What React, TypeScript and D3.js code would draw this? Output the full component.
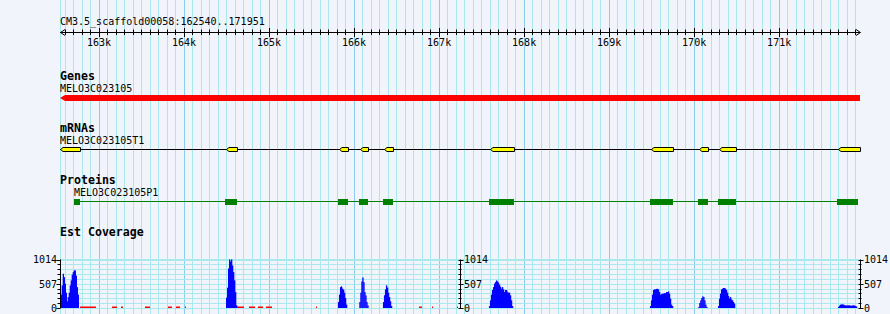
import React from "react";
import * as d3 from "d3";

const W = 890;
const H = 314;

const regionStart = 162540;
const regionEnd = 171951;
const regionTitle = "CM3.5_scaffold00058:162540..171951";

const geneName = "MELO3C023105";
const geneStart = 162540;
const geneEnd = 171951;

const mrnaName = "MELO3C023105T1";
const exonStarts = [162540, 164493, 165822, 166069, 166351, 167598, 169492, 170057, 170292, 171692];
const exonEnds = [162775, 164622, 165928, 166163, 166457, 167880, 169751, 170162, 170492, 171951];

const proteinName = "MELO3C023105P1";
const cdsStarts = [162705, 164481, 165810, 166057, 166339, 167586, 169480, 170045, 170280, 171680];
const cdsEnds = [162775, 164622, 165928, 166163, 166457, 167880, 169751, 170162, 170492, 171927];

const covMax = 1014;
const covTickLabels = [0, 507, 1014];
const covBin = 11.76;
const covPeakStarts = [162548, 164493, 165810, 166061, 166339, 167586, 169480, 170048, 170280, 171692];
const covPeakValues = [
  [279, 473, 716, 645, 508, 320, 140, 229, 320, 473, 577, 695, 750, 785, 785, 675, 437, 279],
  [217, 425, 827, 1014, 972, 1014, 889, 750, 577, 333, 56],
  [125, 279, 437, 452, 404, 383, 320, 208, 71],
  [125, 320, 556, 639, 541, 333, 264, 125, 56],
  [125, 266, 390, 473, 425, 320, 229, 140, 40],
  [40, 160, 279, 376, 437, 508, 541, 577, 556, 530, 487, 445, 404, 437, 390, 333, 376, 376, 333, 320, 320, 264, 160, 40],
  [40, 160, 279, 376, 390, 390, 400, 400, 390, 333, 279, 290, 300, 300, 310, 310, 333, 333, 347, 300, 196, 71, 40],
  [20, 104, 160, 208, 243, 229, 160, 71, 20],
  [40, 196, 300, 390, 404, 418, 418, 404, 376, 320, 250, 196, 229, 180, 160, 125, 90],
  [25, 50, 70, 75, 75, 70, 60, 55, 50, 55, 55, 55, 50, 45, 55, 55, 50, 40, 30],
];
const lowCovStarts = [162775, 163152, 163258, 163540, 163810, 163905, 164010, 164622, 164763, 164869, 164963, 165551, 166763, 166916, 167210];
const lowCovEnds = [162963, 163210, 163281, 163599, 163857, 163952, 164022, 164704, 164834, 164928, 165034, 165563, 166798, 166928, 167222];

const trackLabels = ["Genes", "mRNAs", "Proteins", "Est Coverage"];

const FONT = "'DejaVu Sans Mono', monospace";
const BG = "#f1f5fb";
const MINOR = "#a9e9ee";
const MAJOR = "#8ccbea";

export default function App() {
  const xs = d3.scaleLinear().domain([regionStart, regionEnd]).range([60, 860]);
  const ys = d3.scaleLinear().domain([0, covMax]).range([308, 259.5]);
  const px = (v: number) => Math.floor(v) + 0.5;

  const minorTicks = d3.range(162600, regionEnd, 100).filter((d) => d % 1000 !== 0);
  const majorTicks = d3.range(163000, regionEnd, 1000);

  const rulerY = 32.5;
  const geneTop = 95;
  const geneBot = 101;
  const mrnaY = 149.5;
  const protY = 201.5;

  const covGridVals = d3.range(0, 11).map((i) => (covMax * i) / 10);
  const axisXs = [60.5, 460.5, 860.5];

  const genePath = `M${xs(geneStart)},${(geneTop + geneBot) / 2} L${xs(geneStart) + 5},${geneTop} L${xs(geneEnd)},${geneTop} L${xs(geneEnd)},${geneBot} L${xs(geneStart) + 5},${geneBot} Z`;

  return (
    <svg width={W} height={H} style={{ display: "block" }} xmlns="http://www.w3.org/2000/svg">
      <style>{"body{margin:0}"}</style>
      <rect x={0} y={0} width={W} height={H} fill={BG} />

      {/* vertical grid */}
      <line x1={px(xs(regionStart))} x2={px(xs(regionStart))} y1={0} y2={H} stroke={MINOR} strokeWidth={1} />
      {minorTicks.map((t) => (
        <line key={"g" + t} x1={px(xs(t))} x2={px(xs(t))} y1={0} y2={H} stroke={MINOR} strokeWidth={1} />
      ))}
      {majorTicks.map((t) => (
        <line key={"G" + t} x1={px(xs(t))} x2={px(xs(t))} y1={0} y2={H} stroke={MAJOR} strokeWidth={1} />
      ))}

      {/* coverage horizontal grid */}
      {covGridVals.map((v, i) => (
        <line
          key={"h" + i}
          x1={60}
          x2={861}
          y1={i === 10 ? ys(v) + 0.5 : Math.round(ys(v)) + 0.5}
          y2={i === 10 ? ys(v) + 0.5 : Math.round(ys(v)) + 0.5}
          stroke={MINOR}
          strokeWidth={i === 10 ? 2 : 1}
        />
      ))}

      {/* ruler */}
      <text x={60} y={25} fontFamily={FONT} fontSize={10} fill="#000">{regionTitle}</text>
      <line x1={60} x2={860} y1={rulerY} y2={rulerY} stroke="#000" strokeWidth={1} />
      <path d={`M65,${rulerY - 3} L60.5,${rulerY} L65,${rulerY + 3}`} fill="none" stroke="#000" strokeWidth={1} />
      <path d={`M856,${rulerY - 3} L860.5,${rulerY} L856,${rulerY + 3}`} fill="none" stroke="#000" strokeWidth={1} />
      {minorTicks.map((t) => (
        <line key={"t" + t} x1={px(xs(t))} x2={px(xs(t))} y1={rulerY - 3} y2={rulerY + 2.5} stroke="#000" strokeWidth={1} />
      ))}
      {majorTicks.map((t) => (
        <g key={"T" + t}>
          <line x1={px(xs(t))} x2={px(xs(t))} y1={rulerY - 4.5} y2={rulerY + 4.5} stroke="#000" strokeWidth={1} />
          <text x={xs(t)} y={46} textAnchor="middle" fontFamily={FONT} fontSize={10} fill="#000">
            {`${t / 1000}k`}
          </text>
        </g>
      ))}

      {/* Genes */}
      <text x={60} y={80} fontFamily={FONT} fontSize={11.6} fontWeight="bold" fill="#000">{trackLabels[0]}</text>
      <text x={60} y={91.5} fontFamily={FONT} fontSize={10} fill="#000">{geneName}</text>
      <path d={genePath} fill="#ff0000" />

      {/* mRNAs */}
      <text x={60} y={131.7} fontFamily={FONT} fontSize={11.6} fontWeight="bold" fill="#000">{trackLabels[1]}</text>
      <text x={60} y={144} fontFamily={FONT} fontSize={10} fill="#000">{mrnaName}</text>
      <line x1={xs(geneStart)} x2={xs(geneEnd)} y1={mrnaY} y2={mrnaY} stroke="#000" strokeWidth={1} />
      {exonStarts.map((s, i) => {
        const x0 = Math.round(xs(s)) + 0.5;
        const x1 = Math.round(xs(exonEnds[i])) + 0.5;
        const top = mrnaY - 2;
        const bot = mrnaY + 2;
        const d = `M${x0},${mrnaY} L${x0 + 2.5},${top} L${x1},${top} L${x1},${bot} L${x0 + 2.5},${bot} Z`;
        return <path key={"e" + i} d={d} fill="#ffff00" stroke="#000" strokeWidth={1} />;
      })}

      {/* Proteins */}
      <text x={60} y={184} fontFamily={FONT} fontSize={11.6} fontWeight="bold" fill="#000">{trackLabels[2]}</text>
      <text x={xs(cdsStarts[0])} y={196} fontFamily={FONT} fontSize={10} fill="#000">{proteinName}</text>
      <line x1={xs(cdsStarts[0])} x2={xs(cdsEnds[cdsEnds.length - 1])} y1={protY} y2={protY} stroke="#008000" strokeWidth={1} />
      {cdsStarts.map((s, i) => (
        <rect
          key={"c" + i}
          x={Math.round(xs(s))}
          y={protY - 2.5}
          width={Math.round(xs(cdsEnds[i])) - Math.round(xs(s))}
          height={6}
          fill="#008000"
        />
      ))}

      {/* Est Coverage */}
      <text x={60} y={236} fontFamily={FONT} fontSize={11.6} fontWeight="bold" fill="#000">{trackLabels[3]}</text>
      {lowCovStarts.map((s, i) => (
        <rect key={"l" + i} x={xs(s)} y={306.5} width={Math.max(1, xs(lowCovEnds[i]) - xs(s))} height={1.5} fill="#ff0000" />
      ))}
      {covPeakStarts.map((s, pi) =>
        covPeakValues[pi].map((v, i) => {
          const x0 = xs(s + i * covBin);
          const x1 = xs(s + (i + 1) * covBin);
          return (
            <rect
              key={`p${pi}-${i}`}
              x={x0}
              y={ys(v)}
              width={x1 - x0 + 0.3}
              height={ys(0) - ys(v)}
              fill="#0000ff"
            />
          );
        })
      )}

      {/* coverage axes */}
      {axisXs.map((ax, ai) => (
        <g key={"a" + ai}>
          <line x1={ax} x2={ax} y1={ys(covMax)} y2={ys(0)} stroke="#000" strokeWidth={1} />
          {covGridVals.map((v, i) => {
            const y = Math.round(ys(v)) + 0.5;
            const major = covTickLabels.some((t) => Math.abs(t - v) < 60);
            return ai === 0 ? (
              <line key={"k" + i} x1={ax - (major ? 4 : 3)} x2={ax} y1={y} y2={y} stroke="#000" strokeWidth={1} />
            ) : (
              <line key={"k" + i} x1={ax - 2} x2={ax + (major ? 3 : 1)} y1={y} y2={y} stroke="#000" strokeWidth={1} />
            );
          })}
          {covTickLabels.map((t) => (
            <text
              key={"L" + t}
              x={ai === 0 ? ax - 3.5 : ax + 3.5}
              y={ys(t) + 3.8}
              textAnchor={ai === 0 ? "end" : "start"}
              fontFamily={FONT}
              fontSize={10}
              fill="#000"
            >
              {t}
            </text>
          ))}
        </g>
      ))}
    </svg>
  );
}
